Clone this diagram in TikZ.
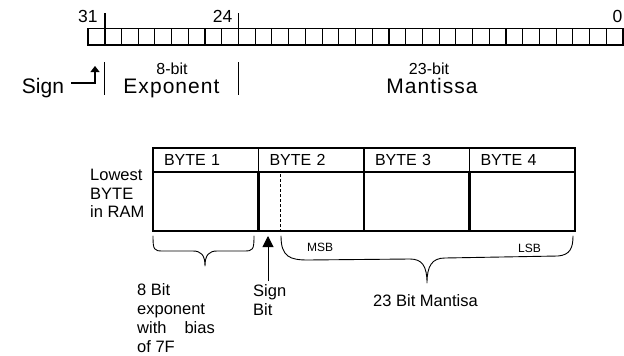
\documentclass[tikz,border=0pt]{standalone}
\usepackage{fontspec}
\setmainfont{Liberation Sans}
\newfontfamily\widesans[LetterSpace=5]{Liberation Sans}
\usetikzlibrary{arrows.meta,positioning,calc}
\tikzset{
  bitcell/.style={rectangle, draw=black, line width=1.1pt, minimum width=16.72pt,
    minimum height=16.5pt, inner sep=0pt, outer sep=0pt, anchor=north west},
  hdcell/.style={rectangle, draw=black, line width=1.5pt, text width=83.5pt, align=left,
    inner xsep=11pt, inner ysep=0pt, minimum height=24pt, outer sep=0pt,
    anchor=north west, font=\fontsize{16}{18}\selectfont},
  bodycell/.style={rectangle, draw=black, line width=2.6pt, minimum width=105.5pt,
    minimum height=59pt, outer sep=0pt, anchor=north west},
  numlbl/.style={font=\fontsize{17.5}{20}\selectfont, inner sep=0pt, anchor=base east},
  bitlbl/.style={font=\fontsize{16}{18}\selectfont, inner sep=0pt, anchor=base},
  fieldlbl/.style={font=\fontsize{21}{23}\selectfont, inner sep=0pt, anchor=base},
  widelbl/.style={fieldlbl, font=\widesans\fontsize{21}{23}\selectfont},
  note/.style={font=\fontsize{16.5}{19}\selectfont, inner sep=0pt, align=left,
    anchor=north west},
  tinylbl/.style={font=\fontsize{12}{14}\selectfont, inner sep=0pt, anchor=base west},
  tickline/.style={line width=1.8pt},
  fieldbar/.style={line width=1.3pt},
  framerule/.style={line width=2.6pt},
  sbdash/.style={line width=0.8pt, dash pattern=on 3pt off 2pt},
  bracepath/.style={line width=0.9pt, line join=round, line cap=round},
  ptr/.style={-{Triangle[length=6pt,width=9pt]}, line width=1.1pt},
  bigptr/.style={-{Triangle[length=11pt,width=11pt]}, line width=1pt},
}
\begin{document}
\begin{tikzpicture}[x=1pt, y=-1pt]
  \useasboundingbox (0,0) rectangle (624,356);
  % 32-bit word, bit 31 on the left
  \foreach \b in {0,...,31}
    \node[bitcell] (bit\b) at ({88+(31-\b)*16.72},28.5) {};
  \draw[tickline] ($(bit31.north east)+(0,-15.5)$) -- (bit31.south east);
  \draw[tickline] ($(bit23.north east)+(0,-15.5)$) -- (bit23.south east);
  \node[numlbl] (n31) at ($(bit31.north east)+(-7,-6)$) {31};
  \node[numlbl] (n24) at ($(bit23.north east)+(-6,-6)$) {24};
  \node[numlbl] (n0) at ($(bit0.north east)+(-0.5,-6)$) {0};
  % field limits
  \draw[fieldbar] ($(bit31.south east)+(0,17)$) -- ++(0,33);
  \draw[fieldbar] ($(bit23.south east)+(0,17)$) -- ++(0,33);
  \node[fieldlbl] (signtxt) at (43,93) {Sign};
  \node[widelbl] (expo) at (171.5,93) {Exponent};
  \node[bitlbl] (expobits) at (172,74.5) {8-bit};
  \node[widelbl] (mant) at (432,93) {Mantissa};
  \node[bitlbl] (mantbits) at (429,74.5) {23-bit};
  \coordinate (signtip) at (95,66);
  \draw[ptr] ($(signtxt.base east)+(7,-10)$) -| (signtip);

  % bytes in memory
  \foreach \n [count=\i from 0] in {1,...,4} {
    \node[hdcell] (hd\n) at ({153+\i*105.5},148) {BYTE \n};
    \node[bodycell] (bd\n) at ({153+\i*105.5},172) {};
  }
  \draw[framerule] (hd1.north west) rectangle (bd4.south east);
  \draw[sbdash] ($(bd2.north west)+(22,2)$) -- ($(bd2.south west)+(22,0)$);
  \node[note, font=\fontsize{16.5}{18.5}\selectfont] (lowest) at (90,169) {Lowest\\BYTE\\in RAM};

  % braces
  \draw[bracepath] (153,236) .. controls (153,250) and (154,251) .. (163,251)
    -- (193,251) .. controls (201,251) and (205,255) .. (205,266)
    .. controls (205,255) and (209,251) .. (217,251)
    -- (244,251) .. controls (253,251) and (254,250) .. (254,236);
  \draw[bracepath] (281,236) .. controls (281,257) and (290,260) .. (308,260)
    -- (410,259) .. controls (422,259) and (427,266) .. (427,283)
    .. controls (427,266) and (432,258) .. (445,258)
    -- (558,256) .. controls (570,255) and (573,248) .. (573,236);
  \node[tinylbl] (msb) at (307,251) {MSB};
  \node[tinylbl] (lsb) at (518,252) {LSB};

  % notes
  \node[note] (exponote) at (137,283.5) {8 Bit\\exponent\\with\hspace{18pt}bias\\of 7F};
  \node[note] (signbit) at (253,284) {Sign\\Bit};
  \coordinate (sbtip) at (268,236);
  \draw[bigptr] ($(sbtip |- signbit.north)+(0,-3)$) -- (sbtip);
  \node[note, anchor=base west] (mantnote) at (373,306.7) {23 Bit Mantisa};
\end{tikzpicture}
\end{document}
